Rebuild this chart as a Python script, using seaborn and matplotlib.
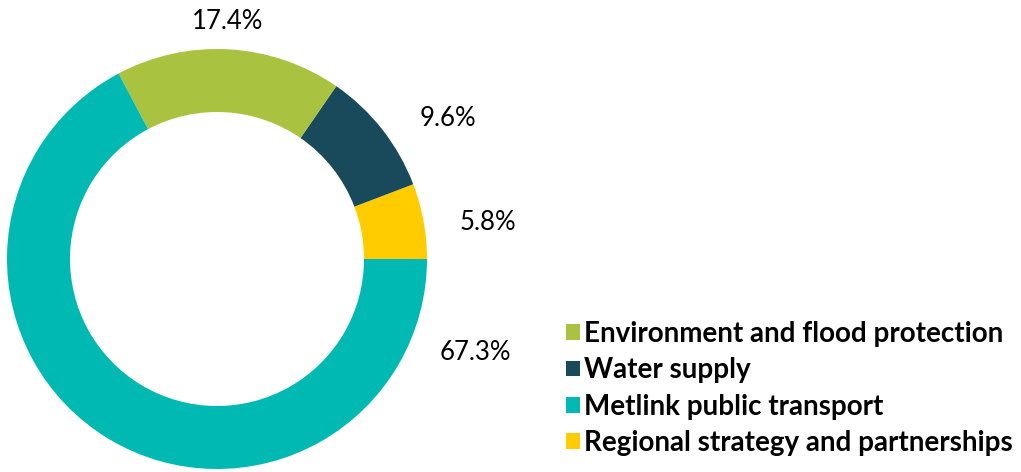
import matplotlib
matplotlib.use("Agg")
import matplotlib.pyplot as plt
from matplotlib.patches import Patch
import seaborn as sns

# Data (counter-clockwise from 3 o'clock)
categories = ["Regional strategy and partnerships", "Water supply",
              "Environment and flood protection", "Metlink public transport"]
values = [5.8, 9.6, 17.4, 67.3]
pct_labels = ["5.8%", "9.6%", "17.4%", "67.3%"]
colors = ["#FFCC00", "#184A5C", "#A9C23F", "#00B9B2"]
legend_order = ["Environment and flood protection", "Water supply",
                "Metlink public transport", "Regional strategy and partnerships"]

# Label positions (axes data coords, radius-1 circle)
label_pos = [(1.29, 0.175), (1.10, 0.67), (0.05, 1.13), (1.23, -0.445)]

sns.set_theme(style="white")
plt.rcParams["font.family"] = ["Lato", "DejaVu Sans"]
plt.rcParams["text.color"] = "#000000"

W, H = 1021, 472
fig = plt.figure(figsize=(W / 100, H / 100), dpi=100)
cx, cy, R = 217, 472 - 259, 210
ax = fig.add_axes([(cx - R) / W, (cy - R) / H, 2 * R / W, 2 * R / H])
ax.pie(values, colors=colors, startangle=0, counterclock=True, radius=1,
       wedgeprops=dict(width=0.30, edgecolor="none", linewidth=0))
ax.set_xlim(-1, 1)
ax.set_ylim(-1, 1)
ax.set_aspect("equal")
ax.axis("off")

for txt, (x, y) in zip(pct_labels, label_pos):
    ax.text(x, y, txt, ha="center", va="center", fontsize=18.5,
            color="#000000", clip_on=False)

cmap = dict(zip(categories, colors))
handles = [Patch(facecolor=cmap[c], edgecolor="none", label=c) for c in legend_order]
leg = fig.legend(handles=handles, loc="upper left",
                 bbox_to_anchor=(566 / W, 1 - 321 / H), frameon=False,
                 prop=dict(family=["Lato", "DejaVu Sans"], weight="bold", size=20),
                 handlelength=0.5, handleheight=0.5, handletextpad=0.15,
                 labelspacing=0.37, borderpad=0, borderaxespad=0)
for t in leg.get_texts():
    t.set_color("#000000")

fig.savefig("out.png", dpi=100, facecolor="white")
